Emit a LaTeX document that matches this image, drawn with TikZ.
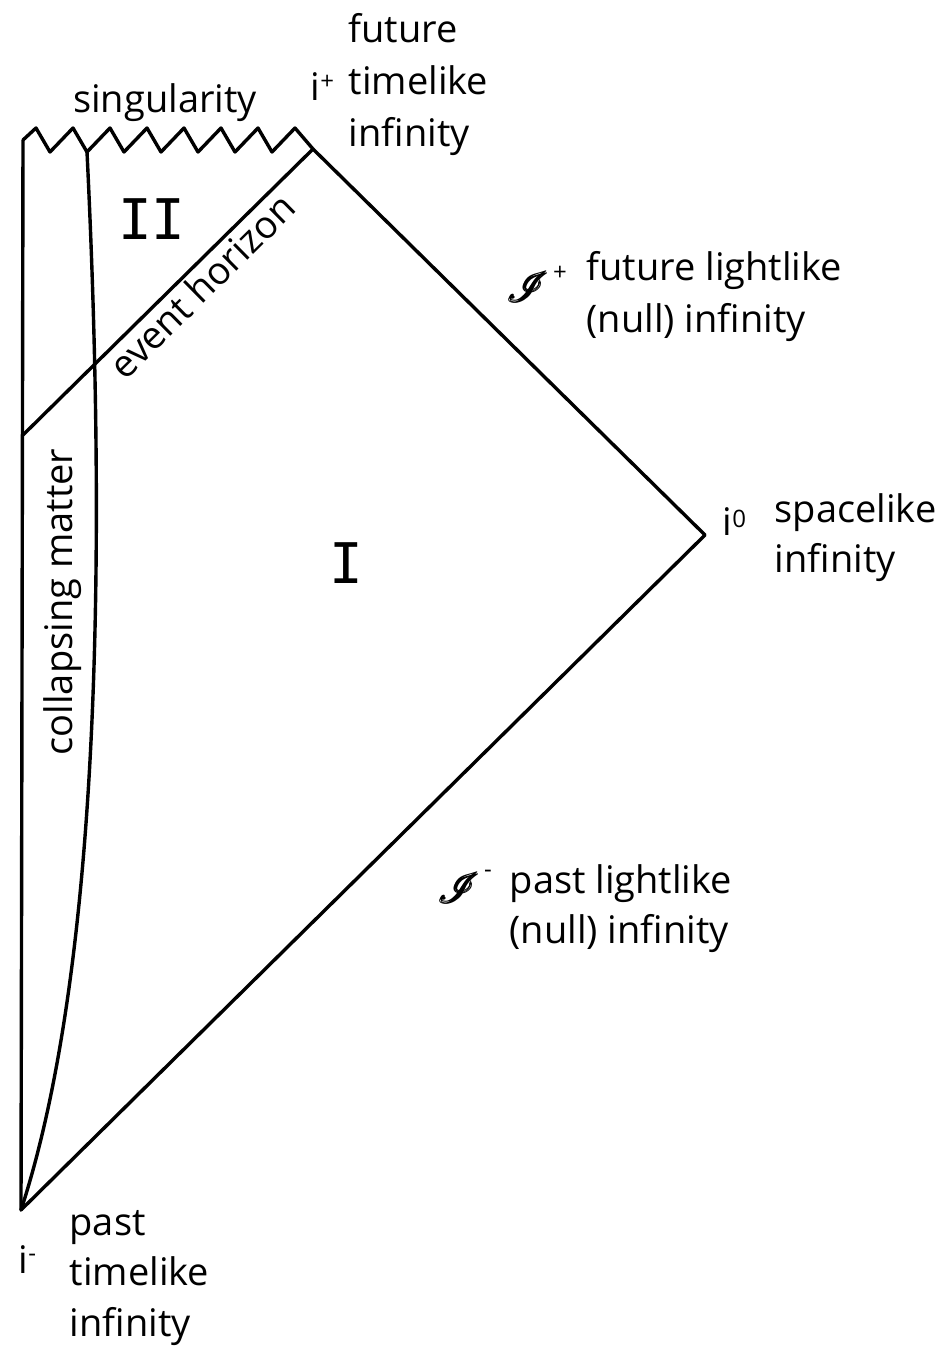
\documentclass[tikz,border=0pt]{standalone}
\usepackage{amsmath}
\usepackage{fontspec}
\setmainfont{Open Sans}
\newfontfamily\romanfont{DejaVu Sans Mono}
\usepackage{mathrsfs}
\newcommand\supmk[2]{\raisebox{#1}{\fontsize{12}{12}\selectfont #2}}
\newcommand\scri{{\fontsize{22}{26}\selectfont$\pmb{\mathscr{I}}$}}
\begin{document}
\begin{tikzpicture}[x=0.5pt,y=-0.5pt,line width=1.7pt,line join=round,line cap=round]
\tikzset{
  lbl/.style={font=\fontsize{19}{26}\selectfont, anchor=base west, inner sep=0pt},
  clbl/.style={font=\fontsize{19}{26}\selectfont, anchor=base, inner sep=0pt},
  romlbl/.style={font=\romanfont\fontsize{28}{30}\selectfont, inner sep=0pt},
  edge/.style={draw=black}
}
\useasboundingbox (0,0) rectangle (938,1348);
% points
\coordinate (im) at (21,1210);
\coordinate (io) at (705,535);
\coordinate (ip) at (313,149);
\coordinate (hl) at (23,435);
\coordinate (tl) at (23,140);
\coordinate (mt) at (87,152);
% boundaries
\draw[edge] (tl) -- (im);
\draw[edge] (im) -- (io);
\draw[edge] (io) -- (ip);
\draw[edge] (hl) -- (ip);
% singularity
\draw[edge] (tl) -- (36,128) -- (50,152) -- (73,128) -- (mt) -- (110,128) -- (124,152)
  -- (147,128) -- (161,152) -- (184,128) -- (198,152) -- (221,128) -- (235,152)
  -- (258,128) -- (272,152) -- (295,128) -- (ip);
% collapsing matter surface
\draw[edge] (mt) .. controls (104,500) and (106,950) .. (im);
% labels
\node[clbl] (sing) at (165,113) {singularity};
\node[lbl] (ft1) at (347,43) {future};
\node[lbl] (ft2) at (347,95) {timelike};
\node[lbl] (ft3) at (347,147) {infinity};
\node[lbl] (iplus) at (309,101) {i\supmk{5.5pt}{+}};
\node[romlbl] (reg2) at (152,219) {II};
\node[romlbl] (reg1) at (346,563) {I};
\path (hl) -- (ip) node[pos=0.57, sloped, anchor=north, font=\fontsize{19}{26}\selectfont, inner sep=1.5pt] (eh) {event horizon};
\node[lbl] (scp) at (506,302) {\scri\hspace{2pt}\supmk{11pt}{+}};
\node[lbl] (fl1) at (585,280) {future lightlike};
\node[lbl] (fl2) at (585,332) {(null) infinity};
\node[lbl] (izero) at (721,535) {i\supmk{4pt}{0}};
\node[lbl] (sl1) at (773,522) {spacelike};
\node[lbl] (sl2) at (773,572) {infinity};
\node[lbl] (scm) at (437,903) {\scri\hspace{2pt}\supmk{13pt}{-}};
\node[lbl] (pl1) at (508,893) {past lightlike};
\node[lbl] (pl2) at (508,943) {(null) infinity};
\node[lbl] (iminus) at (17,1273) {i\supmk{6pt}{-}};
\node[lbl] (pt1) at (68,1235) {past};
\node[lbl] (pt2) at (68,1285) {timelike};
\node[lbl] (pt3) at (68,1336) {infinity};
\node[clbl, rotate=90] (cm) at (72,602) {collapsing matter};
\end{tikzpicture}
\end{document}
